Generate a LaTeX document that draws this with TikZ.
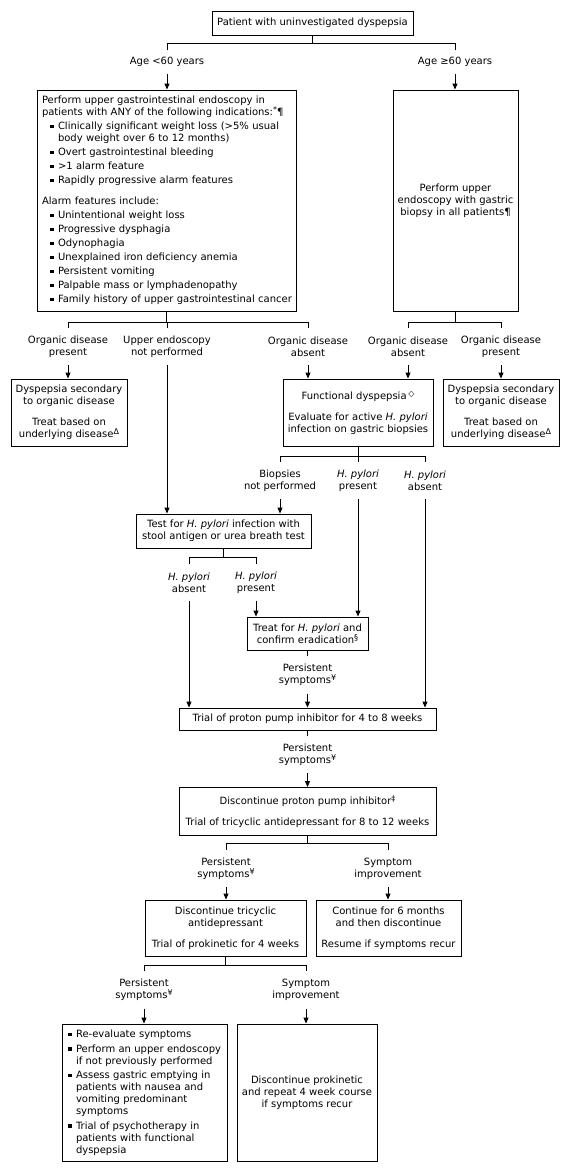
\documentclass[tikz,border=0pt]{standalone}
\usepackage{fontspec}
\setmainfont{DejaVu Sans}
\usetikzlibrary{arrows.meta}
\newcommand{\bl}{\rule[1.5pt]{3.5pt}{3.5pt}}
\newcommand{\itmA}[1]{{\leftskip=16pt\noindent\llap{\bl\hspace{4.5pt}}#1\par}}
\newcommand{\itmB}[1]{{\leftskip=8pt\noindent\llap{\bl\hspace{4.5pt}}#1\par}}
\newcommand{\mysup}[1]{\raisebox{3pt}{\fontsize{8pt}{8pt}\selectfont #1}}
\begin{document}
\begin{tikzpicture}[x=1pt,y=-1pt,line width=0.9pt,
  font=\fontsize{10pt}{12pt}\selectfont,
  box/.style={draw,align=center,inner sep=0pt},
  lbl1/.style={align=center,minimum height=23pt,inner sep=0pt},
  lbl2/.style={align=center,minimum height=37pt,inner sep=0pt},
  arr/.style={-{Triangle[length=6pt,width=5pt]}}]
\fill[white] (0,0) rectangle (574,1171);
\useasboundingbox (0,0) rectangle (574,1171);

% top
\node[box,minimum width=201pt,minimum height=24pt] (start) at (312.5,23) {Patient with uninvestigated dyspepsia};
\coordinate (b0) at (312,43);
\node[lbl1] (age1) at (167,62) {Age <60 years};
\node[lbl1] (age2) at (455,62) {Age ≥60 years};

\node[box,align=left,text width=249pt,inner xsep=5pt,inner ysep=0pt,minimum height=221pt] (endo) at (166.5,200.5) {%
\setlength{\parskip}{2pt}\noindent\mbox{Perform upper gastrointestinal endoscopy in}\\\mbox{patients with ANY of the following indications:\mysup{*}¶}\par
\itmA{\mbox{Clinically significant weight loss (>5\% usual}\\\mbox{body weight over 6 to 12 months)}}
\itmA{\mbox{Overt gastrointestinal bleeding}}
\itmA{\mbox{>1 alarm feature}}
\itmA{\mbox{Rapidly progressive alarm features}}
\vspace{7pt}\noindent Alarm features include:\par
\itmA{\mbox{Unintentional weight loss}}
\itmA{\mbox{Progressive dysphagia}}
\itmA{\mbox{Odynophagia}}
\itmA{\mbox{Unexplained iron deficiency anemia}}
\itmA{\mbox{Persistent vomiting}}
\itmA{\mbox{Palpable mass or lymphadenopathy}}
\itmA{\mbox{Family history of upper gastrointestinal cancer}}};

\node[box,minimum width=125pt,minimum height=221pt] (endoB) at (455.5,200.5) {Perform upper\\endoscopy with gastric\\biopsy in all patients¶};

\draw (start.south) -- (start.south |- b0);
\draw (age1.north) -- (age1.north |- b0) -- (age2.north |- b0) -- (age2.north);
\draw[arr] (age1.south) -- (age1.south |- endo.north);
\draw[arr] (age2.south) -- (age2.south |- endoB.north);

% row A
\coordinate (bA) at (167,322);
\coordinate (bB) at (455,322);
\node[lbl2] (odp1) at (68,346.5) {Organic disease\\present};
\node[lbl2] (uenp) at (167,346.5) {Upper endoscopy\\not performed};
\node[lbl2] (oda1) at (308,346.5) {Organic disease\\absent};
\node[lbl2] (oda2) at (408,346.5) {Organic disease\\absent};
\node[lbl2] (odp2) at (501,346.5) {Organic disease\\present};
\draw (endo.south) -- (endo.south |- bA);
\draw (odp1.north) -- (odp1.north |- bA) -- (oda1.north |- bA) -- (oda1.north);
\draw (uenp.north) -- (uenp.north |- bA);
\draw (endoB.south) -- (endoB.south |- bB);
\draw (oda2.north) -- (oda2.north |- bB) -- (odp2.north |- bB) -- (odp2.north);

\node[box,minimum width=116pt,minimum height=67pt] (sec1) at (69,412.5) {Dyspepsia secondary\\to organic disease\\[9pt]Treat based on\\underlying disease\mysup{Δ}};
\node[box,minimum width=150pt,minimum height=67pt] (fd) at (358,412.5) {Functional dyspepsia\,\mysup{◇}\\[9pt]Evaluate for active \textit{H. pylori}\\infection on gastric biopsies};
\node[box,minimum width=116pt,minimum height=67pt] (sec2) at (501,412.5) {Dyspepsia secondary\\to organic disease\\[9pt]Treat based on\\underlying disease\mysup{Δ}};
\draw[arr] (odp1.south) -- (odp1.south |- sec1.north);
\draw[arr] (oda1.south) -- (oda1.south |- fd.north);
\draw[arr] (oda2.south) -- (oda2.south |- fd.north);
\draw[arr] (odp2.south) -- (odp2.south |- sec2.north);

% test
\node[box,minimum width=175pt,minimum height=34pt] (test) at (223.5,531) {Test for \textit{H. pylori} infection with\\stool antigen or urea breath test};
\draw[arr] (uenp.south) -- (uenp.south |- test.north);

% row B
\coordinate (bC) at (358,456);
\node[lbl2] (bnp) at (280,480.5) {Biopsies\\not performed};
\node[lbl2] (hpp1) at (358,480.5) {\textit{H. pylori}\\present};
\node[lbl2] (hpa1) at (425,480.5) {\textit{H. pylori}\\absent};
\draw (fd.south) -- (fd.south |- hpp1.north);
\draw (bnp.north) -- (bnp.north |- bC) -- (hpa1.north |- bC) -- (hpa1.north);
\draw[arr] (bnp.south) -- (bnp.south |- test.north);

% row C
\coordinate (bD) at (223,557);
\node[lbl2] (hpa2) at (189,582.5) {\textit{H. pylori}\\absent};
\node[lbl2] (hpp2) at (256,582.5) {\textit{H. pylori}\\present};
\draw (test.south) -- (test.south |- bD);
\draw (hpa2.north) -- (hpa2.north |- bD) -- (hpp2.north |- bD) -- (hpp2.north);

% treat
\node[box,minimum width=121pt,minimum height=33pt] (treat) at (307.5,633.5) {Treat for \textit{H. pylori} and\\confirm eradication\mysup{§}};
\draw[arr] (hpp2.south) -- (hpp2.south |- treat.north);
\draw[arr] (hpp1.south) -- (hpp1.south |- treat.north);

\node[lbl2] (ps1) at (307.5,675) {Persistent\\symptoms\mysup{¥}};
\draw (treat.south) -- (ps1.north);

% ppi
\node[box,minimum width=257pt,minimum height=22pt] (ppi) at (307.5,719) {Trial of proton pump inhibitor for 4 to 8 weeks};
\draw[arr] (ps1.south) -- (ppi.north);
\draw[arr] (hpa2.south) -- (hpa2.south |- ppi.north);
\draw[arr] (hpa1.south) -- (hpa1.south |- ppi.north);

\node[lbl2] (ps2) at (307.5,754.5) {Persistent\\symptoms\mysup{¥}};
\draw (ppi.south) -- (ps2.north);

\node[box,minimum width=257pt,minimum height=48pt] (dppi) at (307.5,811.5) {Discontinue proton pump inhibitor\mysup{‡}\\[9pt]Trial of tricyclic antidepressant for 8 to 12 weeks};
\draw[arr] (ps2.south) -- (dppi.north);

% row F
\coordinate (bF) at (308,843);
\node[lbl2] (ps3) at (226,868.5) {Persistent\\symptoms\mysup{¥}};
\node[lbl2] (si1) at (388,868.5) {Symptom\\improvement};
\draw (dppi.south) -- (dppi.south |- bF);
\draw (ps3.north) -- (ps3.north |- bF) -- (si1.north |- bF) -- (si1.north);

\node[box,minimum width=161pt,minimum height=56pt] (tca) at (225.5,928) {Discontinue tricyclic\\antidepressant\\[9pt]Trial of prokinetic for 4 weeks};
\node[box,minimum width=145pt,minimum height=56pt] (cont) at (388.5,928) {Continue for 6 months\\and then discontinue\\[9pt]Resume if symptoms recur};
\draw[arr] (ps3.south) -- (ps3.south |- tca.north);
\draw[arr] (si1.south) -- (si1.south |- cont.north);

% row G
\coordinate (bG) at (226,965);
\node[lbl2] (ps4) at (144,990) {Persistent\\symptoms\mysup{¥}};
\node[lbl2] (si2) at (306,990) {Symptom\\improvement};
\draw (tca.south) -- (tca.south |- bG);
\draw (ps4.north) -- (ps4.north |- bG) -- (si2.north |- bG) -- (si2.north);

\node[box,align=left,text width=153pt,inner xsep=6pt,inner ysep=0pt,minimum height=137pt] (fin1) at (144.5,1092.5) {%
\setlength{\parskip}{2.5pt}%
\itmB{\mbox{Re-evaluate symptoms}}
\itmB{\mbox{Perform an upper endoscopy}\\\mbox{if not previously performed}}
\itmB{\mbox{Assess gastric emptying in}\\\mbox{patients with nausea and}\\\mbox{vomiting predominant}\\\mbox{symptoms}}
\itmB{\mbox{Trial of psychotherapy in}\\\mbox{patients with functional}\\\mbox{dyspepsia}}};
\node[box,minimum width=140pt,minimum height=137pt] (fin2) at (307,1092.5) {Discontinue prokinetic\\and repeat 4 week course\\if symptoms recur};
\draw[arr] (ps4.south) -- (ps4.south |- fin1.north);
\draw[arr] (si2.south) -- (si2.south |- fin2.north);
\end{tikzpicture}
\end{document}
